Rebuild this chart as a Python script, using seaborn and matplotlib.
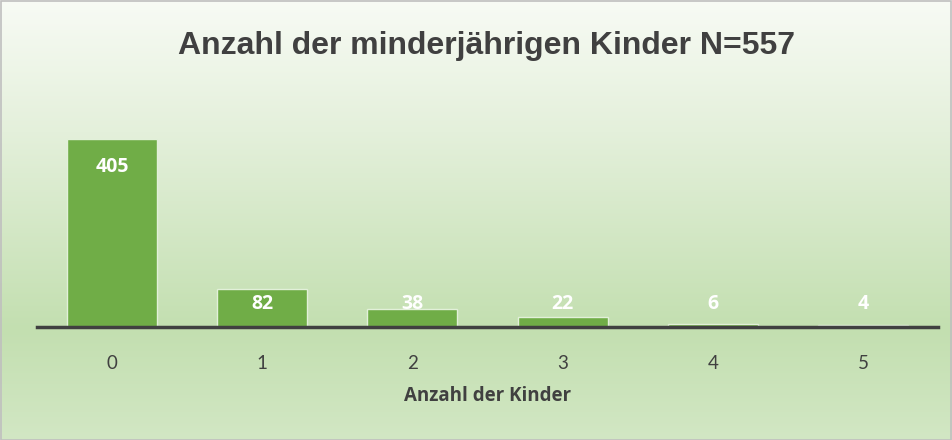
import numpy as np
import pandas as pd
import seaborn as sns
import matplotlib.pyplot as plt
from matplotlib.colors import LinearSegmentedColormap
from matplotlib.patches import Rectangle

# data
kinder = ['0', '1', '2', '3', '4', '5']
anzahl = [405, 82, 38, 22, 6, 4]
title = 'Anzahl der minderjährigen Kinder N=557'
x_label = 'Anzahl der Kinder'

df = pd.DataFrame({'Kinder': kinder, 'Anzahl': anzahl})

sns.set_theme(style='white')
plt.rcParams['font.family'] = ['Lato', 'DejaVu Sans']
bold_font = ['Open Sans', 'DejaVu Sans']

fig = plt.figure(figsize=(9.52, 4.4), dpi=100)

# gradient background, white-ish top to light green bottom
bg = fig.add_axes([0, 0, 1, 1], zorder=0)
cmap = LinearSegmentedColormap.from_list(
    'bg', [(0.0, '#F8FBF5'), (0.3, '#E4F0DB'), (0.75, '#C3DFB0'), (1.0, '#D2E7C4')])
grad = np.linspace(0, 1, 256).reshape(-1, 1)
bg.imshow(grad, aspect='auto', cmap=cmap, extent=[0, 1, 0, 1], origin='upper')
bg.set_axis_off()
fig.patches.append(Rectangle((0.001, 0.0), 0.998, 0.997, transform=fig.transFigure,
                             fill=False, edgecolor='#BFBFBF', linewidth=1.2))

ax = fig.add_axes([37 / 952, 113 / 440, 901 / 952, 209 / 440], zorder=1)
ax.patch.set_alpha(0)

sns.barplot(data=df, x='Kinder', y='Anzahl', color='#70AD47', saturation=1,
            edgecolor='#E2F0D9', linewidth=1, width=0.6, ax=ax)

ax.set_ylim(0, 450)
ax.set_xlim(-0.5, 5.5)
ax.set_yticks([])
for s in ['top', 'right', 'left']:
    ax.spines[s].set_visible(False)
ax.spines['bottom'].set_color('#404040')
ax.spines['bottom'].set_linewidth(2.5)
ax.tick_params(axis='x', length=0, pad=20, labelsize=13.5, labelcolor='#404040')
ax.set_xlabel(x_label, fontsize=13.5, weight='bold', color='#404040', labelpad=10,
              family=bold_font)
ax.set_ylabel('')

# value labels inside end of bars
for i, v in enumerate(anzahl):
    ax.text(i, max(v - 60, 50), str(v), ha='center', va='center', color='white',
            fontsize=14, weight='bold', family=bold_font)

fig.text(0.511, 0.896, title, ha='center', va='center', fontsize=23, weight='bold',
         color='#404040', family=['Liberation Sans', 'DejaVu Sans'])

fig.savefig('out.png', dpi=100)
